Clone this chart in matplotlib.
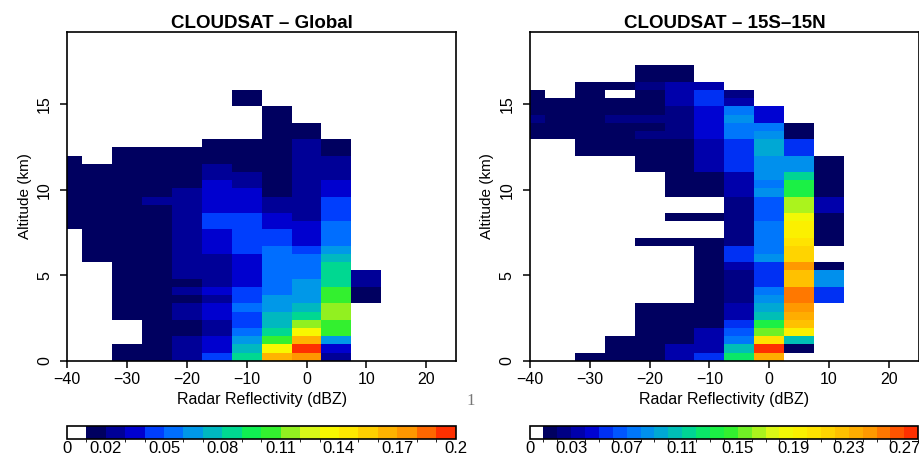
import numpy as np
import matplotlib
matplotlib.use('Agg')
import matplotlib.pyplot as plt
from matplotlib.colors import ListedColormap, BoundaryNorm, LinearSegmentedColormap

plt.rcParams['font.family'] = ['Liberation Sans', 'DejaVu Sans']

# reflectivity bin centres (dBZ) and altitude bin height (km)
dbz_bins = [-40, -35, -30, -25, -20, -15, -10, -5, 0, 5, 10]
alt_step = 0.48

# frequency per reflectivity column, from the lowest altitude bin upward
global_cols = [
    [0, 0, 0, 0, 0, 0, 0, 0, 0, 0, 0, 0, 0, 0, 0, 0, .015, .015, .015, .015,
     .015, .015, .015, .015, .015],
    [0, 0, 0, 0, 0, 0, 0, 0, 0, 0, 0, 0, .015, .015, .015, .015, .015, .015, .015, .015,
     .015, .015, .015, .015],
    [.015, .015, 0, 0, 0, .015, .015, .015, .015, .015, .015, .015, .015, .015, .015, .015,
     .015, .015, .015, .015, .015, .015, .015, .015, .015, .015],
    [.015, .015, .015, .015, .015, .015, .015, .015, .015, .015, .015, .015, .015, .015, .015,
     .015, .015, .015, .015, .025, .015, .015, .015, .015, .015, .015],
    [.025, .025, .025, .015, .015, .025, .025, .015, .025, .015, .025, .025, .025, .025, .025,
     .025, .025, .025, .025, .025, .025, .015, .015, .015, .015, .015],
    [.045, .035, .035, .025, .025, .035, .035, .025, .035, .025, .025, .025, .025, .035, .035,
     .035, .045, .045, .035, .035, .035, .035, .025, .025, .015, .015, .015],
    [.085, .075, .065, .055, .045, .045, .055, .045, .045, .035, .035, .035, .035, .045, .045,
     .045, .045, .045, .035, .035, .035, .025, .025, .015, .015, .015, .015, 0, 0, 0,
     0, .015, .015],
    [.165, .135, .105, .085, .075, .075, .065, .065, .055, .055, .055, .055, .055, .055, .045,
     .045, .035, .035, .025, .025, .015, .015, .015, .015, .015, .015, .015, .015, .015, .015,
     .015],
    [.175, .195, .165, .135, .115, .085, .075, .065, .065, .065, .055, .055, .055, .045, .035,
     .035, .035, .025, .025, .025, .025, .025, .025, .025, .025, .025, .025, .015, .015],
    [.025, .035, .065, .105, .105, .115, .115, .105, .105, .085, .085, .085, .075, .065, .055,
     .055, .055, .045, .045, .045, .035, .035, .025, .025, .025, .015, .015],
    [0, 0, 0, 0, 0, 0, 0, .015, .015, .025, .025],
]

tropics_cols = [
    [0, 0, 0, 0, 0, 0, 0, 0, 0, 0, 0, 0, 0, 0, 0, 0, 0, 0, 0, 0, 0, 0, 0, 0, 0, 0, 0,
     .015, .015, .025, .015, .015, .015],
    [0, 0, 0, 0, 0, 0, 0, 0, 0, 0, 0, 0, 0, 0, 0, 0, 0, 0, 0, 0, 0, 0, 0, 0, 0, 0, 0,
     .015, .015, .015, .015, .015],
    [.015, 0, 0, 0, 0, 0, 0, 0, 0, 0, 0, 0, 0, 0, 0, 0, 0, 0, 0, 0, 0, 0, 0, 0, 0,
     .015, .015, .015, .015, .015, .015, .015, .015, .015],
    [.015, .015, .015, 0, 0, 0, 0, 0, 0, 0, 0, 0, 0, 0, 0, 0, 0, 0, 0, 0, 0, 0, 0, 0, 0,
     .015, .015, .015, .015, .025, .015, .015, 0, .015],
    [.015, .015, .015, .015, .015, .015, .015, 0, 0, 0, 0, 0, 0, 0, .015, 0, 0, 0, 0, 0,
     0, 0, 0, .015, .015, .015, .015, .025, .015, .025, .015, .015, .015, .025, .015, .015],
    [.035, .035, .015, .015, .015, .015, .015, 0, 0, 0, 0, 0, 0, 0, .015, 0, 0, .015, 0, 0,
     .015, .015, .015, .015, .015, .015, .015, .025, .025, .025, .025, .035, .035, .035, .015, .015],
    [.055, .035, .035, .035, .015, .015, .015, .015, .015, .015, .015, .015, .015, .015, .015,
     0, 0, .015, 0, 0, .015, .015, .015, .035, .035, .035, .035, .045, .045, .045, .045,
     .055, .055, .035],
    [.125, .105, .075, .065, .055, .035, .035, .025, .025, .025, .025, .035, .055, .055, .025,
     .025, .025, .025, .025, .025, .035, .035, .035, .055, .055, .055, .055, .075, .075, .085,
     .075, .035, .025],
    [.235, .275, .205, .155, .135, .105, .095, .085, .075, .055, .055, .055, .085, .075, .075,
     .075, .075, .065, .065, .065, .085, .075, .085, .085, .085, .095, .095, .085, .075, .045,
     .045],
    [0, .015, .105, .195, .225, .235, .245, .255, .255, .225, .225, .245, .215, .215, .205,
     .195, .195, .185, .165, .165, .135, .135, .115, .085, .085, .055, .055, .015, .015],
    [0, 0, 0, 0, 0, 0, 0, .055, .055, .085, .085, .015, 0, 0, .015, .015, .015, .015, .035, .035,
     .015, .015, .015, .015, .015],
]

global_max = 0.20
tropics_max = 0.28
global_ticks = [0, 0.02, 0.05, 0.08, 0.11, 0.14, 0.17, 0.2]
global_ticklabels = ['0', '0.02', '0.05', '0.08', '0.11', '0.14', '0.17', '0.2']
tropics_ticks = [0, 0.03, 0.07, 0.11, 0.15, 0.19, 0.23, 0.27]
tropics_ticklabels = ['0', '0.03', '0.07', '0.11', '0.15', '0.19', '0.23', '0.27']

base_colors = ['#000060', '#000098', '#0000d0', '#0040ff', '#0070ff', '#0098e8', '#00b8c0',
               '#00d890', '#10f050', '#30f030', '#90f020', '#d8f818', '#f8f800', '#ffe800',
               '#ffd000', '#ffb400', '#ff9800', '#ff6800', '#ff3000']


def to_grid(cols):
    nrow = max(len(c) for c in cols)
    grid = np.zeros((nrow, len(cols)))
    for j, c in enumerate(cols):
        grid[:len(c), j] = c
    return grid


def make_cmap(vmax):
    nbox = int(round(vmax / 0.01))
    ramp = LinearSegmentedColormap.from_list('ramp', base_colors)
    colors = ['white'] + [ramp(i / (nbox - 2)) for i in range(nbox - 1)]
    levels = np.linspace(0, vmax, nbox + 1)
    return ListedColormap(colors), BoundaryNorm(levels, nbox)


fig = plt.figure(figsize=(9.2, 4.58), dpi=100)

panels = [
    (global_cols, global_max, global_ticks, global_ticklabels, 'CLOUDSAT \u2013 Global', 0.0732),
    (tropics_cols, tropics_max, tropics_ticks, tropics_ticklabels, 'CLOUDSAT \u2013 15S\u201315N', 0.5761),
]

for cols, vmax, cticks, clabels, title, left in panels:
    grid = to_grid(cols)
    xedges = np.append(np.array(dbz_bins) - 2.5, dbz_bins[-1] + 2.5)
    yedges = np.arange(grid.shape[0] + 1) * alt_step
    cmap, norm = make_cmap(vmax)

    ax = fig.add_axes([left, 0.2124, 0.4225, 0.7183])
    mesh = ax.pcolormesh(xedges, yedges, grid, cmap=cmap, norm=norm)
    ax.set_xlim(-40, 25)
    ax.set_ylim(0, 19.25)
    ax.set_xticks([-40, -30, -20, -10, 0, 10, 20])
    ax.set_yticks([0, 5, 10, 15])
    ax.tick_params(direction='out', length=5, width=1.1, labelsize=11.5, pad=3)
    ax.tick_params(axis='y', labelrotation=90, pad=6)
    for lab in ax.get_yticklabels():
        lab.set_va('center')
    for s in ax.spines.values():
        s.set_linewidth(1.2)
    ax.set_xlabel('Radar Reflectivity (dBZ)', fontsize=11.5, labelpad=4)
    ax.set_ylabel('Altitude (km)', fontsize=11, labelpad=4)
    ax.set_title(title, fontsize=13.5, fontweight='bold', pad=3)

    cax = fig.add_axes([left - 0.0005, 0.0404, 0.4225, 0.0295])
    cb = fig.colorbar(mesh, cax=cax, orientation='horizontal', ticks=cticks)
    cb.ax.set_xticklabels(clabels)
    cb.ax.tick_params(length=0, labelsize=12, pad=1)
    cb.outline.set_linewidth(1.2)

fig.text(0.507, 0.115, '1', fontsize=12, color='#777777', family='Liberation Serif')

fig.savefig('out.png', dpi=100)
